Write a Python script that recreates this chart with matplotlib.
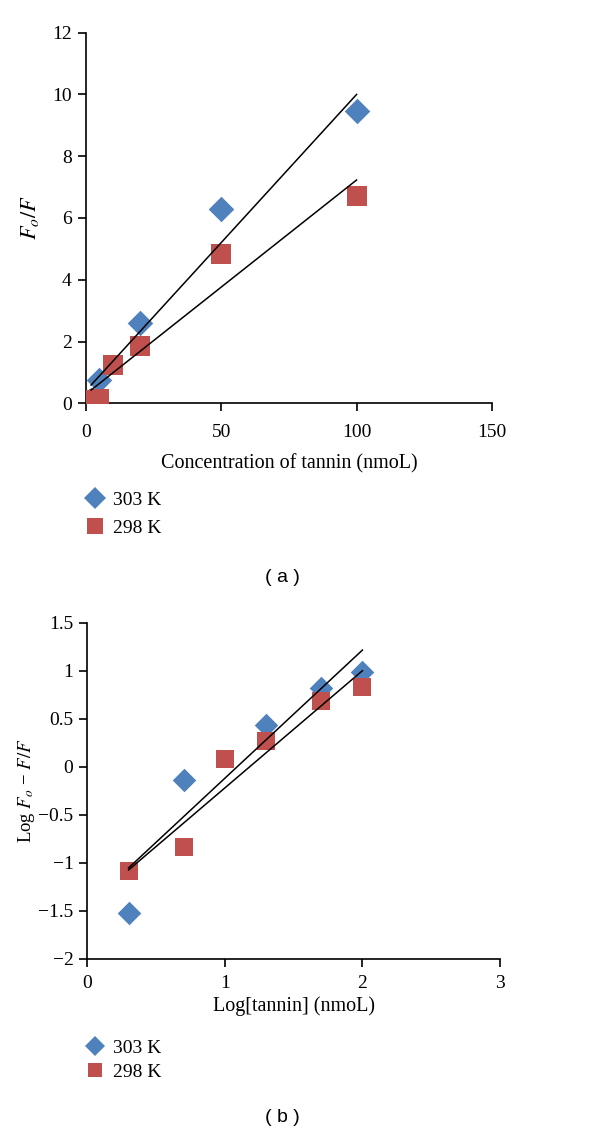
import numpy as np
import matplotlib
matplotlib.use("Agg")
from matplotlib import pyplot as plt
from matplotlib.lines import Line2D

plt.rcParams['font.family'] = ['Liberation Serif', 'DejaVu Serif']
plt.rcParams['mathtext.fontset'] = 'stix'

BLUE = '#4F81BD'
RED = '#C0504D'

# Panel (a): Stern-Volmer
conc_303 = [2, 5, 20, 50, 100]
fof_303 = [0.1, 0.75, 2.6, 6.3, 9.45]
conc_298 = [2, 5, 10, 20, 50, 100]
fof_298 = [0.1, 0.15, 1.25, 1.85, 4.85, 6.7]
# trendlines (slope, intercept)
fit_a_303 = (0.096, 0.40)
fit_a_298 = (0.0694, 0.29)

# Panel (b): double log
logc_303 = [0.3, 0.7, 1.3, 1.7, 2.0]
logf_303 = [-1.52, -0.14, 0.43, 0.82, 0.99]
logc_298 = [0.3, 0.7, 1.0, 1.3, 1.7, 2.0]
logf_298 = [-1.09, -0.84, 0.08, 0.27, 0.68, 0.83]
fit_b_303 = (1.335, -1.455)
fit_b_298 = (1.221, -1.442)

W, H = 600, 1135
fig = plt.figure(figsize=(W / 100, H / 100), dpi=100)


def ax_at(x0, y0, x1, y1):
    return fig.add_axes([x0 / W, 1 - y1 / H, (x1 - x0) / W, (y1 - y0) / H])


def style(ax, pad):
    for s in ['top', 'right']:
        ax.spines[s].set_visible(False)
    for s in ['left', 'bottom']:
        ax.spines[s].set_linewidth(1.2)
    ax.tick_params(direction='out', length=6, width=1.2, labelsize=14, pad=4)
    ax.tick_params(axis='x', pad=pad)


def draw_panel(ax, x1, y1, x2, y2, f1, f2, sq, dm):
    ax.scatter(x2, y2, marker='s', s=sq ** 2, color=RED, zorder=3, linewidths=0)
    ax.scatter(x1, y1, marker='D', s=dm ** 2, color=BLUE, zorder=2, linewidths=0)
    for (m, b), xs in [(f1, x1), (f2, x2)]:
        xx = np.array([min(xs), max(xs)])
        ax.plot(xx, m * xx + b, color='black', lw=1.1, zorder=4)


# (a)
ax1 = ax_at(85.7, 32.7, 492, 403.3)
style(ax1, 9)
draw_panel(ax1, conc_303, fof_303, conc_298, fof_298, fit_a_303, fit_a_298, 14, 13)
ax1.set_xlim(0, 150)
ax1.set_ylim(0, 12)
ax1.set_xticks([0, 50, 100, 150])
ax1.set_yticks(range(0, 13, 2))
ax1.set_xlabel('Concentration of tannin (nmoL)', fontsize=14.5, labelpad=9)
ax1.set_ylabel('$F_o/F$', fontsize=16, labelpad=8)

# (b)
ax2 = ax_at(87.3, 622.7, 500, 958.7)
style(ax2, 6)
draw_panel(ax2, logc_303, logf_303, logc_298, logf_298, fit_b_303, fit_b_298, 13, 12)
ax2.set_xlim(0, 3)
ax2.set_ylim(-2, 1.5)
ax2.set_xticks([0, 1, 2, 3])
ax2.set_yticks([-2, -1.5, -1, -0.5, 0, 0.5, 1, 1.5])
ax2.set_yticklabels(['\u22122', '\u22121.5', '\u22121', '\u22120.5', '0', '0.5', '1', '1.5'])
ax2.set_xlabel('Log[tannin] (nmoL)', fontsize=14.5, labelpad=3)
ax2.set_ylabel('Log $F_o$ \u2212 $F/F$', fontsize=13.5, labelpad=1)

# legends
handles_a = [Line2D([], [], ls='', marker='D', ms=11, color=BLUE, mew=0, label='303 K'),
             Line2D([], [], ls='', marker='s', ms=11, color=RED, mew=0, label='298 K')]
handles_b = [Line2D([], [], ls='', marker='D', ms=10, color=BLUE, mew=0, label='303 K'),
             Line2D([], [], ls='', marker='s', ms=9.5, color=RED, mew=0, label='298 K')]
for ypos, hs, sp in ((514, handles_a, 0.55), (1060, handles_b, 0.35)):
    fig.legend(handles=hs, loc='center left', bbox_to_anchor=(62 / W, 1 - ypos / H),
               frameon=False, fontsize=14, handletextpad=0.1, labelspacing=sp,
               handlelength=1.6)

fig.text(282 / W, 1 - 577 / H, '( a )', ha='center', va='center', fontsize=14,
         family='Liberation Sans')
fig.text(282 / W, 1 - 1118 / H, '( b )', ha='center', va='center', fontsize=14,
         family='Liberation Sans')

fig.savefig('out.png', dpi=100)
